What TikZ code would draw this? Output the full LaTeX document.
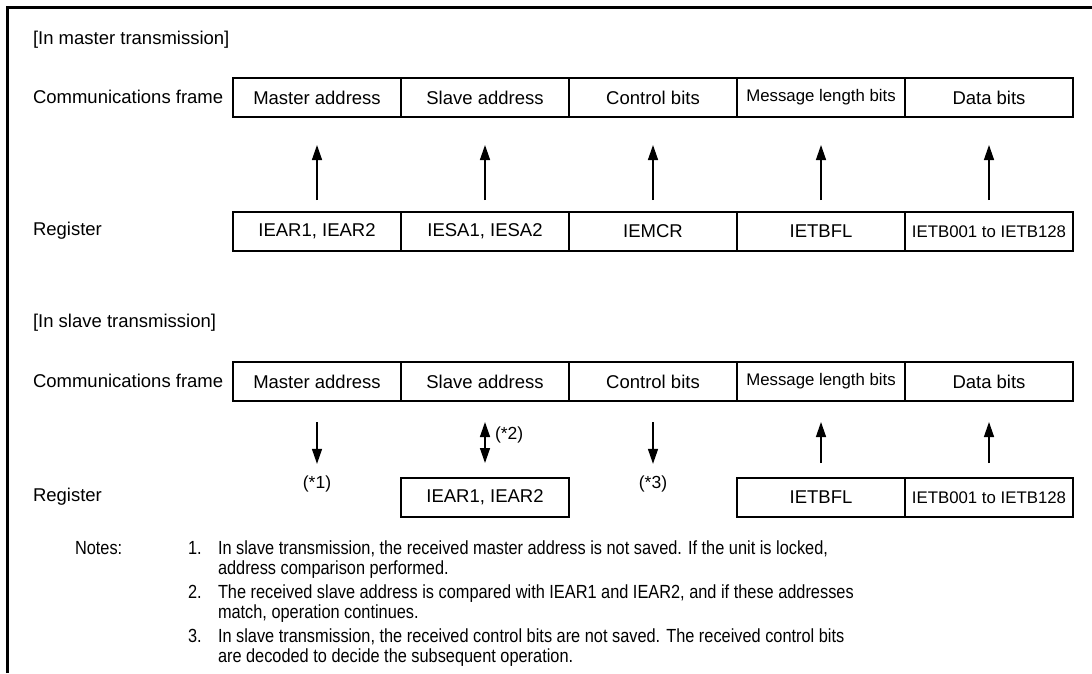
\documentclass[tikz,border=0pt]{standalone}
\usepackage{fontspec}
\setmainfont{Liberation Sans}
\newfontfamily\notefont[FakeStretch=0.86]{Liberation Sans}
\usetikzlibrary{arrows.meta}
\begin{document}
\begin{tikzpicture}[x=1pt,y=-1pt,
  every node/.style={inner sep=0pt, outer sep=0pt},
  lab/.style={anchor=west, font=\fontsize{18.5}{22}\selectfont},
  cell/.style={draw, line width=2.1pt, minimum width=168pt, minimum height=39pt, anchor=north west, font=\fontsize{18.5}{22}\selectfont},
  small/.style={font=\fontsize{16.8}{20}\selectfont},
  arr/.style={line width=1.4pt, -{Triangle[length=15pt,width=10pt]}},
  darr/.style={line width=1.4pt, {Triangle[length=15pt,width=10pt]}-{Triangle[length=15pt,width=10pt]}},
  notetxt/.style={anchor=base west, font=\notefont\fontsize{19}{22}\selectfont},
  starlbl/.style={font=\fontsize{17.5}{20}\selectfont}
]
\useasboundingbox (0,0) rectangle (1092,673);
\fill[white] (0,0) rectangle (1092,673);
\draw[line width=3pt] (7,673) -- (7,7) -- (1092,7);

% master transmission
\node[lab] (t1) at (33,40) {[In master transmission]};
\node[lab] (l1) at (33,97) {Communications frame};
\node[lab] (l2) at (33,231) {Register};
\node[cell] (fa) at (233,78) {Master address};
\node[cell] (fb) at (401,78) {Slave address};
\node[cell] (fc) at (569,78) {Control bits};
\node[cell,small] (fd) at (737,78) {Message length bits};
\node[cell] (fe) at (905,78) {Data bits};
\node[cell] (ra) at (233,212) {IEAR1, IEAR2};
\node[cell] (rb) at (401,212) {IESA1, IESA2};
\node[cell] (rc) at (569,212) {IEMCR};
\node[cell] (rd) at (737,212) {IETBFL};
\node[cell,small] (re) at (905,212) {IETB001 to IETB128};
\foreach \n in {a,b,c,d,e}
  \draw[arr, shorten <=12pt, shorten >=28pt] (r\n) -- (f\n);

% slave transmission
\node[lab] (t2) at (33,323) {[In slave transmission]};
\node[lab] (l3) at (33,381) {Communications frame};
\node[lab] (l4) at (33,497) {Register};
\node[cell] (sa) at (233,362) {Master address};
\node[cell] (sb) at (401,362) {Slave address};
\node[cell] (sc) at (569,362) {Control bits};
\node[cell,small] (sd) at (737,362) {Message length bits};
\node[cell] (se) at (905,362) {Data bits};
\node[cell] (tb) at (401,478) {IEAR1, IEAR2};
\node[cell] (td) at (737,478) {IETBFL};
\node[cell,small] (te) at (905,478) {IETB001 to IETB128};
\node[starlbl] (s1) at (317,484) {(*1)};
\node[starlbl] (s3) at (653,484) {(*3)};
\node[starlbl, anchor=west] (s2) at (495,435) {(*2)};
\draw[arr, shorten <=21pt, shorten >=12pt] (sa) -- (s1);
\draw[arr, shorten <=21pt, shorten >=12pt] (sc) -- (s3);
\draw[darr, shorten <=21pt, shorten >=15pt] (sb) -- (tb);
\draw[arr, shorten <=15pt, shorten >=21pt] (td) -- (sd);
\draw[arr, shorten <=15pt, shorten >=21pt] (te) -- (se);

% notes
\node[notetxt] (n0) at (75,554) {Notes:};
\node[notetxt] (n1) at (188,554) {1.};
\node[notetxt] (n1a) at (218,554) {In slave transmission, the received master address is not saved. If the unit is locked,};
\node[notetxt] (n1b) at (218,574) {address comparison performed.};
\node[notetxt] (n2) at (188,598) {2.};
\node[notetxt] (n2a) at (218,598) {The received slave address is compared with IEAR1 and IEAR2, and if these addresses};
\node[notetxt] (n2b) at (218,618) {match, operation continues.};
\node[notetxt] (n3) at (188,642) {3.};
\node[notetxt] (n3a) at (218,642) {In slave transmission, the received control bits are not saved. The received control bits};
\node[notetxt] (n3b) at (218,662) {are decoded to decide the subsequent operation.};
\end{tikzpicture}
\end{document}
